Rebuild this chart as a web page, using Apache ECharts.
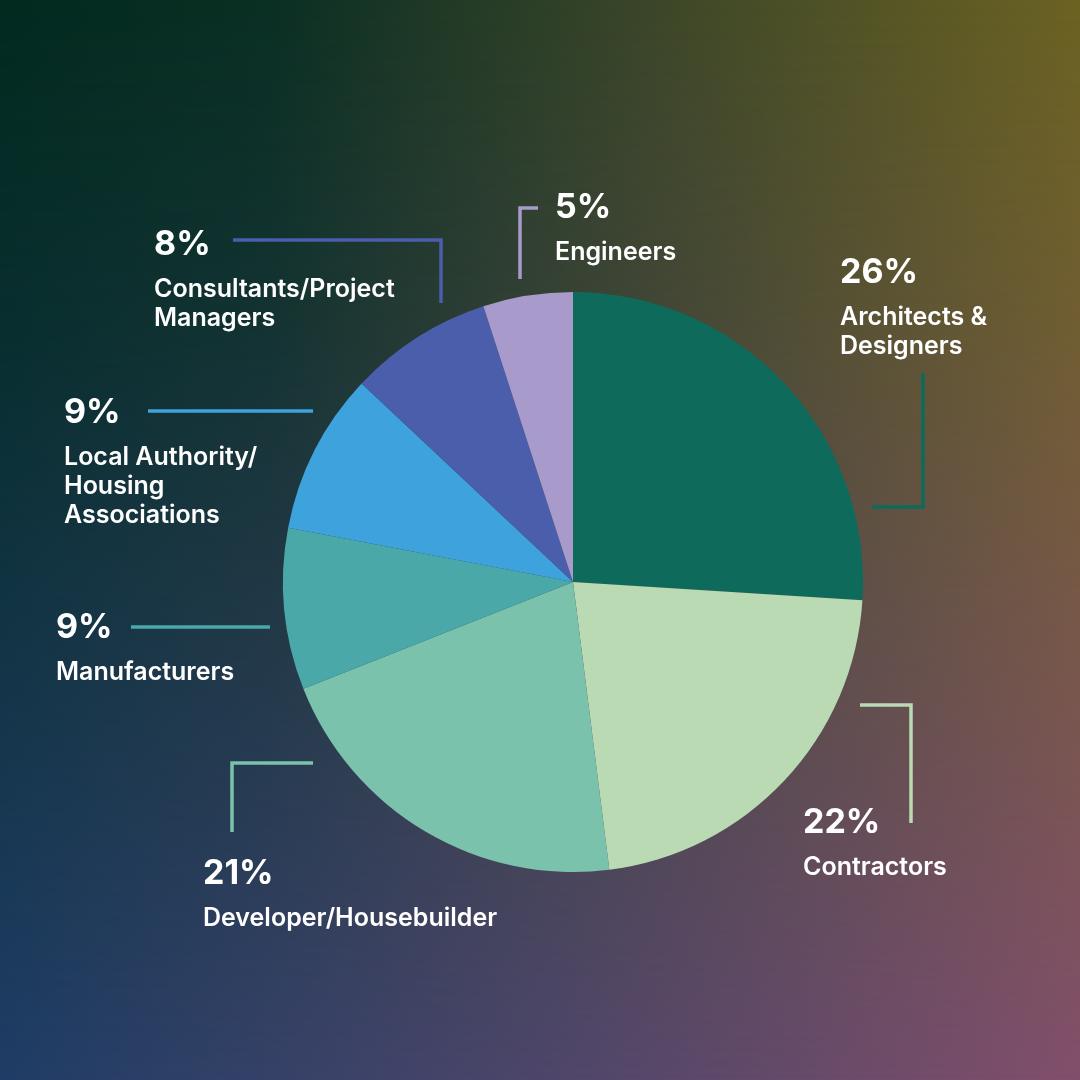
<!DOCTYPE html>
<html>
<head>
<meta charset="utf-8">
<script src="https://cdn.jsdelivr.net/npm/echarts@6/dist/echarts.min.js"></script>
<style>
  html, body { margin: 0; padding: 0; }
  #wrap { position: relative; width: 1080px; height: 1080px; overflow: hidden; }
  .bg { position: absolute; left: 0; top: 0; width: 1080px; height: 1080px; }
  /* bottom edge colours */
  #bgBottom { background: linear-gradient(to right, #1f3d66 0%, #4d466a 50%, #824f6b 100%); }
  /* top edge colours, faded out towards the bottom */
  #bgTop {
    background: linear-gradient(to right, #022a1f 0%, #0a2f23 25%, #3b4628 60%, #6b6222 100%);
    -webkit-mask-image: linear-gradient(to bottom, #000 0%, rgba(0,0,0,0.78) 30%, rgba(0,0,0,0) 100%);
    mask-image: linear-gradient(to bottom, #000 0%, rgba(0,0,0,0.78) 30%, rgba(0,0,0,0) 100%);
  }
  #chart { position: absolute; left: 0; top: 0; width: 1080px; height: 1080px; }
</style>
</head>
<body>
<div id="wrap">
  <div class="bg" id="bgBottom"></div>
  <div class="bg" id="bgTop"></div>
  <div id="chart"></div>
</div>
<script>
const categories = [
  'Architects &\nDesigners',
  'Contractors',
  'Developer/Housebuilder',
  'Manufacturers',
  'Local Authority/\nHousing\nAssociations',
  'Consultants/Project\nManagers',
  'Engineers'
];
const shares = [26, 22, 21, 9, 9, 8, 5];
const colors = ['#0e6b5b', '#b9dab2', '#7bc2ad', '#4aa9a8', '#3ea3dc', '#4a5eab', '#a89bcc'];

// where each label block sits and how its leader line runs
const labelSpots = [
  { x: 840, y: 243, line: [[872, 507], [923, 507], [923, 373]] },
  { x: 803, y: 793, line: [[860, 705], [911, 705], [911, 823]] },
  { x: 203, y: 844, line: [[313, 763], [232, 763], [232, 832]] },
  { x: 56,  y: 598, line: [[270, 627], [200, 627], [131, 627]] },
  { x: 64,  y: 383, line: [[313, 411], [230, 411], [148, 411]] },
  { x: 154, y: 215, line: [[441, 303], [441, 240], [233, 240]] },
  { x: 555, y: 178, line: [[520, 279], [520, 208], [538, 208]] }
];

const chart = echarts.init(document.getElementById('chart'));

chart.setOption({
  backgroundColor: 'transparent',
  animation: false,
  textStyle: { fontFamily: 'Inter' },
  series: [
    {
      type: 'pie',
      center: [573, 582],
      radius: [0, 290],
      startAngle: 90,
      clockwise: true,
      avoidLabelOverlap: false,
      emphasis: { disabled: true },
      itemStyle: { borderWidth: 0 },
      data: categories.map((name, i) => ({
        name: name,
        value: shares[i],
        itemStyle: { color: colors[i] }
      })),
      label: {
        show: true,
        position: 'outside',
        color: '#ffffff',
        fontFamily: 'Inter',
        formatter: p => `{p|${p.value}%}\n{n|${p.name}}`,
        rich: {
          p: { fontSize: 34, fontWeight: 700, lineHeight: 60, color: '#ffffff', fontFamily: 'Inter' },
          n: { fontSize: 25, fontWeight: 600, lineHeight: 29, color: '#ffffff', fontFamily: 'Inter' }
        }
      },
      labelLine: {
        show: true,
        smooth: false,
        lineStyle: { width: 3.5, opacity: 1 }
      },
      labelLayout: params => {
        const s = labelSpots[params.dataIndex];
        return {
          x: s.x,
          y: s.y,
          align: 'left',
          verticalAlign: 'top',
          labelLinePoints: s.line
        };
      }
    }
  ]
});
</script>
</body>
</html>
